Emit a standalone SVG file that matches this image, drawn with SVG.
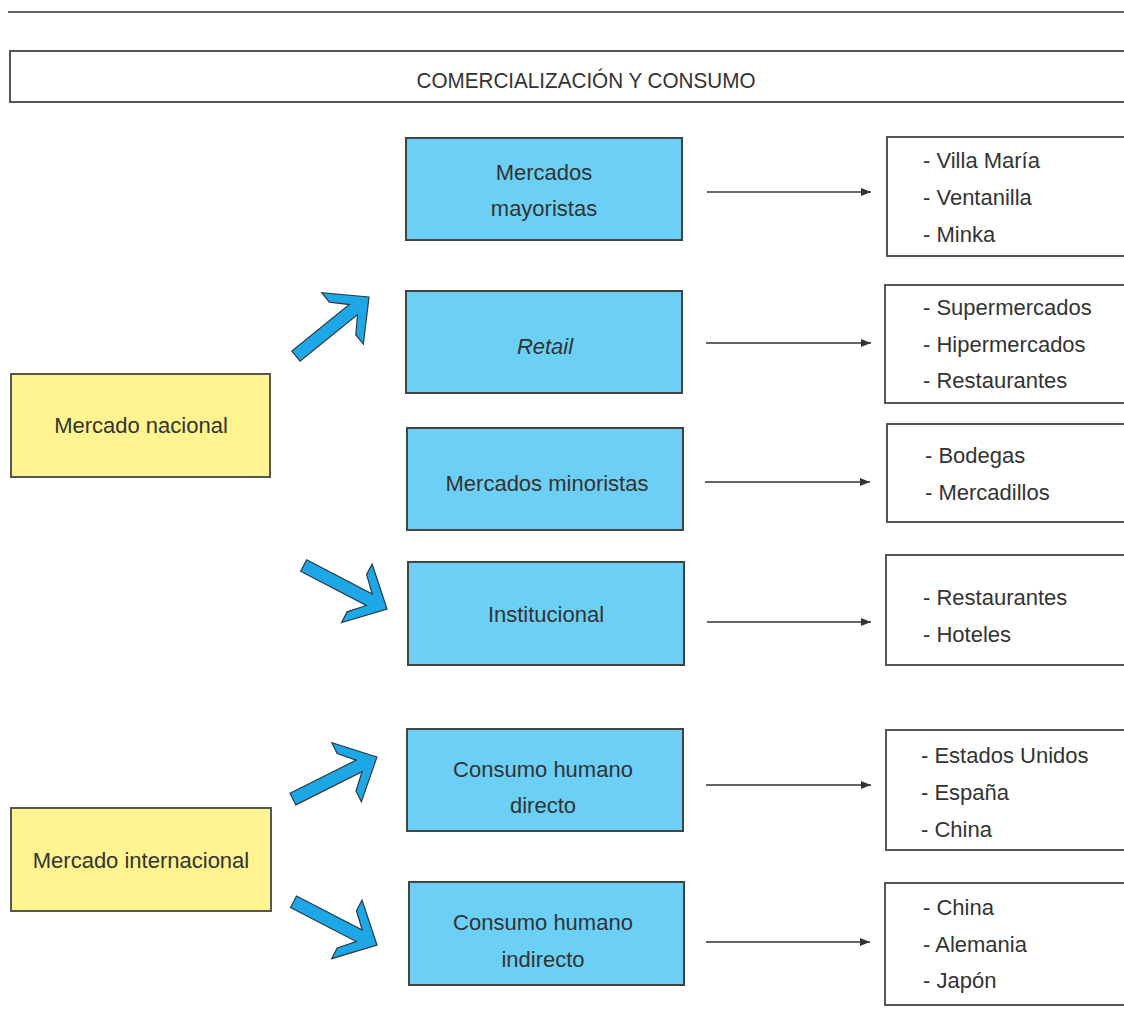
<svg xmlns="http://www.w3.org/2000/svg" width="1124" height="1035" viewBox="0 0 1124 1035">
  <defs>
    <style>
      text { font-family: "Liberation Sans", Arial, sans-serif; font-size: 22px; fill: #333; }
      .c { text-anchor: middle; }
      .frame { fill: #fff; stroke: #555; stroke-width: 2; }
      .blue { fill: #6ccff6; stroke: #444; stroke-width: 2; }
      .yellow { fill: #fff48f; stroke: #555; stroke-width: 2; }
      .link { stroke: #333; stroke-width: 1.4; fill: none; marker-end: url(#head); }
      .block { fill: #1ea7e6; stroke: #2a3a46; stroke-width: 1.2; stroke-linejoin: miter; }
    </style>
    <marker id="head" viewBox="0 0 10 8" refX="10" refY="4" markerWidth="10" markerHeight="8" markerUnits="userSpaceOnUse" orient="auto">
      <path d="M0,0 L10,4 L0,8 Z" fill="#333"/>
    </marker>
    <!-- block arrow pointing +x, tip at origin; shaft length 94 -->
    <polygon id="blockArrow" points="0,0 -34,-33 -34,-21 -20,-6.5 -94,-6.5 -94,6.5 -20,6.5 -34,21 -34,33"/>
  </defs>

  <!-- top rule -->
  <line x1="8" y1="12" x2="1124" y2="12" stroke="#666" stroke-width="2"/>

  <!-- title bar -->
  <g id="title">
    <rect class="frame" x="10" y="51" width="1130" height="51"/>
    <text x="586" y="88" class="c" font-size="23" textLength="339" lengthAdjust="spacingAndGlyphs">COMERCIALIZACIÓN Y CONSUMO</text>
  </g>

  <!-- origin markets -->
  <g id="mercado-nacional">
    <rect class="yellow" x="11" y="374" width="259" height="103"/>
    <text x="141" y="433" class="c">Mercado nacional</text>
  </g>
  <g id="mercado-internacional">
    <rect class="yellow" x="11" y="808" width="260" height="103"/>
    <text x="141" y="868" class="c">Mercado internacional</text>
  </g>

  <!-- channels -->
  <g id="mercados-mayoristas">
    <rect class="blue" x="406" y="138" width="276" height="102"/>
    <text x="544" y="180" class="c">Mercados</text>
    <text x="544" y="216" class="c">mayoristas</text>
  </g>
  <g id="retail">
    <rect class="blue" x="406" y="291" width="276" height="102"/>
    <text x="545" y="354" class="c" font-style="italic">Retail</text>
  </g>
  <g id="mercados-minoristas">
    <rect class="blue" x="407" y="428" width="276" height="102"/>
    <text x="547" y="491" class="c">Mercados minoristas</text>
  </g>
  <g id="institucional">
    <rect class="blue" x="408" y="562" width="276" height="103"/>
    <text x="546" y="622" class="c">Institucional</text>
  </g>
  <g id="consumo-directo">
    <rect class="blue" x="407" y="729" width="276" height="102"/>
    <text x="543" y="777" class="c">Consumo humano</text>
    <text x="543" y="813" class="c">directo</text>
  </g>
  <g id="consumo-indirecto">
    <rect class="blue" x="409" y="882" width="275" height="103"/>
    <text x="543" y="930" class="c">Consumo humano</text>
    <text x="543" y="967" class="c">indirecto</text>
  </g>

  <!-- destinations -->
  <g id="destinos-mayoristas">
    <rect class="frame" x="887" y="137" width="250" height="119"/>
    <text x="923" y="168">- Villa María</text>
    <text x="923" y="205">- Ventanilla</text>
    <text x="923" y="242">- Minka</text>
  </g>
  <g id="destinos-retail">
    <rect class="frame" x="885" y="285" width="250" height="118"/>
    <text x="923" y="315">- Supermercados</text>
    <text x="923" y="352">- Hipermercados</text>
    <text x="923" y="388">- Restaurantes</text>
  </g>
  <g id="destinos-minoristas">
    <rect class="frame" x="887" y="424" width="250" height="98"/>
    <text x="925" y="463">- Bodegas</text>
    <text x="925" y="500">- Mercadillos</text>
  </g>
  <g id="destinos-institucional">
    <rect class="frame" x="886" y="555" width="250" height="110"/>
    <text x="923" y="605">- Restaurantes</text>
    <text x="923" y="642">- Hoteles</text>
  </g>
  <g id="destinos-directo">
    <rect class="frame" x="886" y="730" width="250" height="120"/>
    <text x="921" y="763">- Estados Unidos</text>
    <text x="921" y="800">- España</text>
    <text x="921" y="837">- China</text>
  </g>
  <g id="destinos-indirecto">
    <rect class="frame" x="885" y="883" width="250" height="122"/>
    <text x="923" y="915">- China</text>
    <text x="923" y="952">- Alemania</text>
    <text x="923" y="988">- Japón</text>
  </g>

  <!-- connectors -->
  <g id="connectors">
    <use href="#blockArrow" class="block" transform="translate(369,297) rotate(-39)"/>
    <use href="#blockArrow" class="block" transform="translate(387,609) rotate(27.6)"/>
    <use href="#blockArrow" class="block" transform="translate(377,757) rotate(-26.6)"/>
    <use href="#blockArrow" class="block" transform="translate(377,945) rotate(27.4)"/>

    <line class="link" x1="707" y1="192" x2="871" y2="192"/>
    <line class="link" x1="706" y1="343" x2="871" y2="343"/>
    <line class="link" x1="705" y1="482" x2="870" y2="482"/>
    <line class="link" x1="707" y1="622" x2="871" y2="622"/>
    <line class="link" x1="706" y1="785" x2="871" y2="785"/>
    <line class="link" x1="706" y1="942" x2="870" y2="942"/>
  </g>
</svg>
